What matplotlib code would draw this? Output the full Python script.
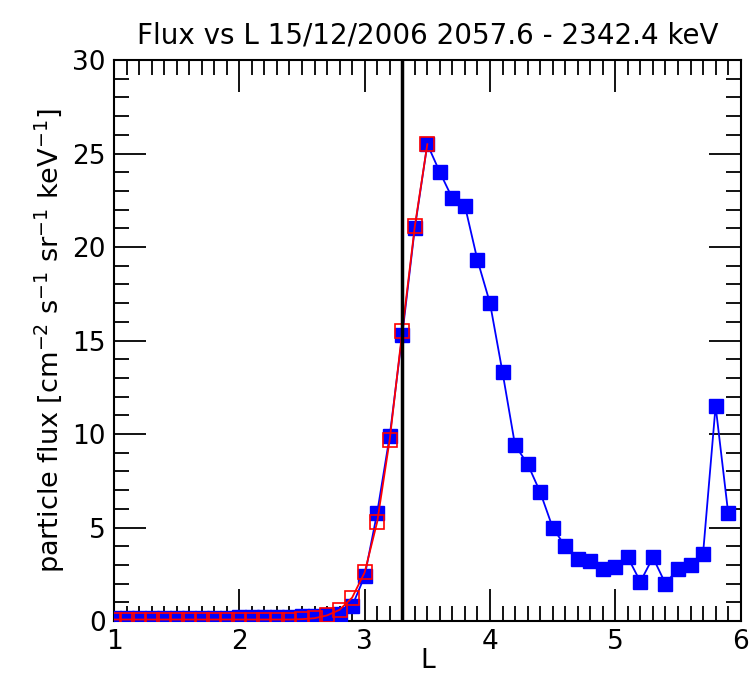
import numpy as np
import matplotlib
matplotlib.use("Agg")
import matplotlib.pyplot as plt
from matplotlib.ticker import MultipleLocator

# data
L_blue = np.round(np.arange(1.0, 5.95, 0.1), 1)
flux_blue = [0.15, 0.15, 0.15, 0.15, 0.15, 0.15, 0.15, 0.15, 0.15, 0.15,
             0.2, 0.2, 0.2, 0.2, 0.2, 0.25, 0.25, 0.3, 0.35, 0.8,
             2.4, 5.8, 9.9, 15.3, 21.0, 25.5, 24.0, 22.6, 22.2, 19.3,
             17.0, 13.3, 9.4, 8.4, 6.9, 5.0, 4.0, 3.3, 3.2, 2.8,
             2.9, 3.4, 2.1, 3.4, 2.0, 2.8, 3.0, 3.6, 11.5, 5.8]

L_red = np.round(np.arange(1.0, 3.55, 0.1), 1)
flux_red = [0.08, 0.08, 0.08, 0.08, 0.08, 0.08, 0.08, 0.08, 0.08, 0.08,
            0.08, 0.08, 0.08, 0.08, 0.08, 0.1, 0.15, 0.3, 0.6, 1.25,
            2.6, 5.3, 9.7, 15.5, 21.1, 25.5]

L_cut = 3.3

fig = plt.figure(figsize=(7.55, 6.79), dpi=100)
ax = fig.add_axes([0.151, 0.0854, 0.830, 0.8262])

ax.plot(L_blue, flux_blue, color="#0000ff", lw=1.3, marker="s", ms=10,
        mfc="#0000ff", mec="#0000ff", zorder=3)
ax.plot(L_red, flux_red, color="#ff0000", lw=1.3, marker="s", ms=10,
        mfc="none", mec="#ff0000", mew=1.2, zorder=4)
ax.axvline(L_cut, color="black", lw=2.5, zorder=5)

ax.set_xlim(1, 6)
ax.set_ylim(0, 30)
ax.xaxis.set_major_locator(MultipleLocator(1))
ax.xaxis.set_minor_locator(MultipleLocator(0.1))
ax.yaxis.set_major_locator(MultipleLocator(5))
ax.yaxis.set_minor_locator(MultipleLocator(1))
ax.tick_params(which="both", direction="in", top=True, right=True, labelsize=19, width=1.3)
ax.tick_params(which="major", length=23, pad=6)
ax.tick_params(which="minor", length=11)
for s in ax.spines.values():
    s.set_linewidth(1.5)

ax.set_title("Flux vs L 15/12/2006 2057.6 - 2342.4 keV", fontsize=20, pad=12)
ax.set_xlabel("L", fontsize=19, labelpad=-5)
ax.set_ylabel(r"particle flux [cm$^{-2}$ s$^{-1}$ sr$^{-1}$ keV$^{-1}$]", fontsize=19.5, labelpad=4)

fig.savefig("out.png", dpi=100)
